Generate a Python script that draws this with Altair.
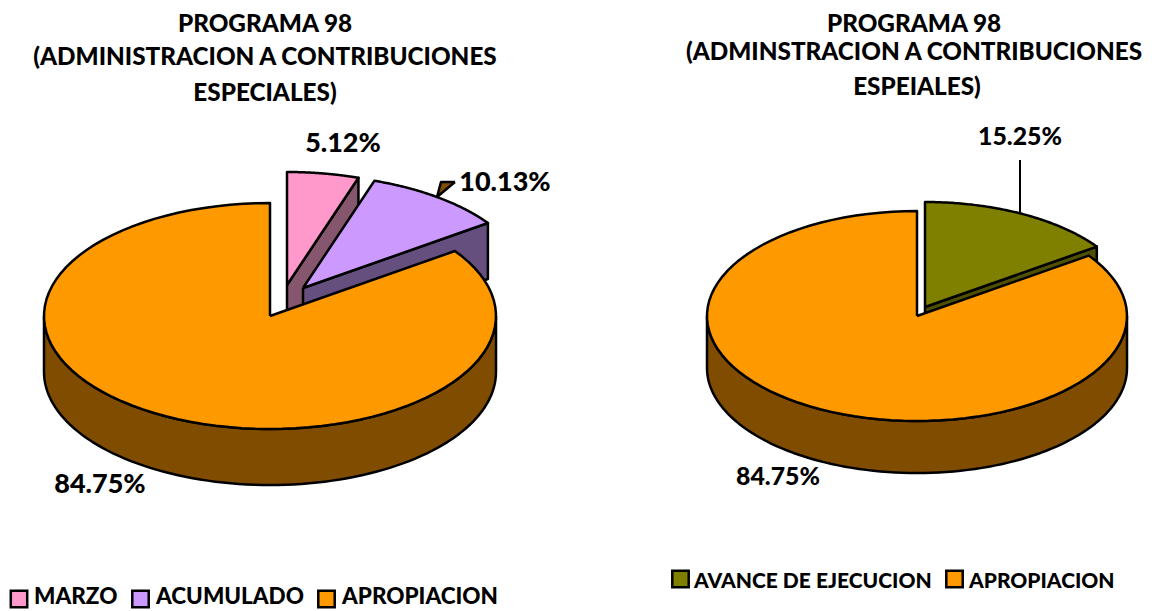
import math
import altair as alt
import pandas as pd

# ---- chart values ----
left_title = ["PROGRAMA 98", "(ADMINISTRACION A CONTRIBUCIONES", "ESPECIALES)"]
right_title = ["PROGRAMA 98", "(ADMINSTRACION A CONTRIBUCIONES", "ESPEIALES)"]
left_names = ["MARZO", "ACUMULADO", "APROPIACION"]
left_values = [5.12, 10.13, 84.75]
left_labels = ["5.12%", "10.13%", "84.75%"]
right_names = ["AVANCE DE EJECUCION", "APROPIACION"]
right_values = [15.25, 84.75]
right_labels = ["15.25%", "84.75%"]

PINK, PINK_D = "#ff99cc", "#85566e"
LILAC, LILAC_D = "#cc99ff", "#654f7f"
ORANGE, ORANGE_D = "#ff9900", "#804d00"
OLIVE, OLIVE_D = "#808000", "#4f4f00"

W, H = 1139, 603
FONT = "Lato"
X = alt.X("x:Q", axis=None, scale=alt.Scale(domain=[8, 8 + W], nice=False, zero=False))
Y = alt.Y("y:Q", axis=None, scale=alt.Scale(domain=[8 + H, 8], nice=False, zero=False))


def rim(cx, cy, rx, ry, a0, a1, dy=0, n=90):
    pts = []
    for k in range(n + 1):
        a = math.radians(a0 + (a1 - a0) * k / n)
        pts.append((cx + rx * math.sin(a), cy - ry * math.cos(a) + dy))
    return pts


def poly(pts, fill):
    pts = list(pts) + [pts[0]]
    df = pd.DataFrame({"x": [p[0] for p in pts], "y": [p[1] for p in pts], "i": range(len(pts))})
    return alt.Chart(df).mark_line(
        fill=fill, stroke="black", strokeWidth=2.5, strokeJoin="round", clip=False
    ).encode(x=X, y=Y, order="i:Q")


def slice_top(g, a0, a1, fill):
    cx, cy, rx, ry, _ = g
    return poly([(cx, cy)] + rim(cx, cy, rx, ry, a0, a1), fill)


def cut_face(g, a, fill):
    cx, cy, rx, ry, d = g
    e = rim(cx, cy, rx, ry, a, a, n=1)[0]
    return poly([(cx, cy), e, (e[0], e[1] + d), (cx, cy + d)], fill)


def front_wall(g, fill):
    cx, cy, rx, ry, d = g
    return poly(rim(cx, cy, rx, ry, 90, 270) + rim(cx, cy, rx, ry, 270, 90, dy=d), fill)


def texts(rows, size, align="center"):
    df = pd.DataFrame(rows, columns=["x", "y", "t"])
    return alt.Chart(df).mark_text(
        font=FONT, fontWeight=900, fontSize=size, align=align, baseline="middle", color="black"
    ).encode(x=X, y=Y, text="t:N")


def swatches(rows):
    df = pd.DataFrame(rows, columns=["x", "y", "c"])
    return alt.Chart(df).mark_square(size=270, opacity=1, stroke="black", strokeWidth=2.5).encode(
        x=X, y=Y, fill=alt.Fill("c:N", scale=None)
    )


# ---- left pie ----
a1 = left_values[0] * 3.6
a2 = a1 + left_values[1] * 3.6
main_l = (270, 316, 226, 113, 56)
pink = (287, 285, 226, 113, 56)
lilac = (303, 288, 226, 113, 56)

# ---- right pie ----
b1 = right_values[0] * 3.6
main_r = (917, 316, 210, 105, 52)
olive = (925, 307, 210, 105, 52)

layers = [
    cut_face(pink, a1, PINK_D),
    slice_top(pink, 0, a1, PINK),
    cut_face(lilac, a2, LILAC_D),
    slice_top(lilac, a1, a2, LILAC),
    poly([(455, 182), (441, 182), (437, 197)], ORANGE_D),
    front_wall(main_l, ORANGE_D),
    slice_top(main_l, a2, 360, ORANGE),
    cut_face(olive, b1, OLIVE_D),
    slice_top(olive, 0, b1, OLIVE),
    alt.Chart(pd.DataFrame({"x": [1020], "y": [160], "y2": [212]})).mark_rule(
        color="black", strokeWidth=2
    ).encode(x=X, y=Y, y2="y2:Q"),
    front_wall(main_r, ORANGE_D),
    slice_top(main_r, b1, 360, ORANGE),
    texts([(265, 25, left_title[0]), (265, 58, left_title[1]), (265, 94, left_title[2]),
           (914, 25, right_title[0]), (914, 53, right_title[1]), (917, 88, right_title[2])], 24.3),
    texts([(343, 144, left_labels[0]), (505, 183, left_labels[1]), (100, 485, left_labels[2])], 27),
    texts([(1020, 138, right_labels[0]), (778, 478, right_labels[1])], 24.8),
    swatches([(19, 599, PINK), (140.5, 599, LILAC), (326.5, 599, ORANGE),
              (680.5, 579, OLIVE), (954.5, 579, ORANGE)]),
    texts([(34, 597, left_names[0]), (156, 597, left_names[1]), (342, 597, left_names[2])], 22.5, "left"),
    texts([(694, 582, right_names[0]), (969, 582, right_names[1])], 21, "left"),
]

chart = alt.layer(*layers).properties(
    width=W, height=H, padding=0, autosize=alt.AutoSizeParams(type="none"), background="white"
).configure_view(stroke=None)

chart.save("out.html", embed_options={"renderer": "svg", "actions": False})
